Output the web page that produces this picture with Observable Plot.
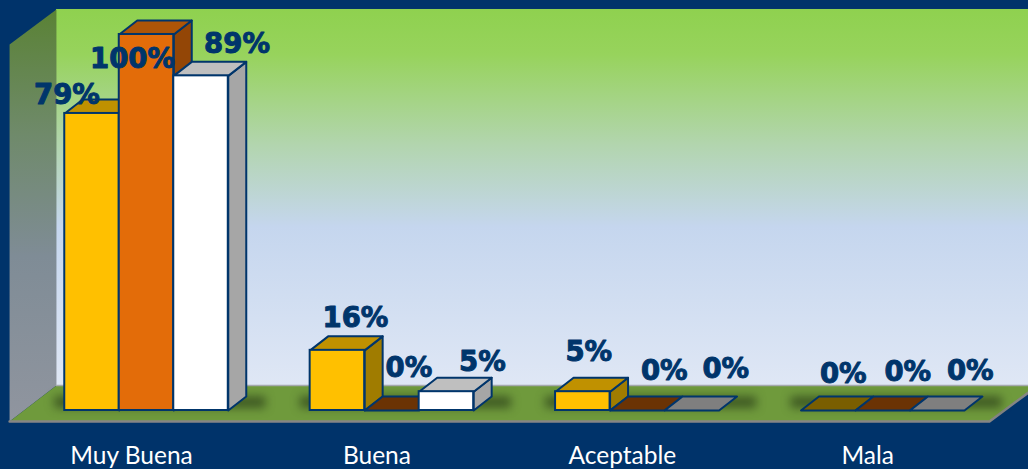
<!DOCTYPE html>
<html><head><meta charset="utf-8">
<script src="https://cdn.jsdelivr.net/npm/d3@7"></script>
<script src="https://cdn.jsdelivr.net/npm/@observablehq/plot@0.6"></script>
<style>html,body{margin:0;padding:0;background:#00336a;overflow:hidden}svg{display:block}</style>
</head><body><div id="chart"></div>
<script>
const categories = ["Muy Buena", "Buena", "Aceptable", "Mala"];
const seriesA = [79, 16, 5, 0];
const seriesB = [100, 0, 0, 0];
const seriesC = [89, 5, 0, 0];

// Rendering layout (not data)
const allSeries = [seriesA, seriesB, seriesC];
const barW = 0.2221, depthX = 0.0733, depthY = 3.72;
const shades = [
  {face:"#ffc000", top:"#c09100", side:"#a07c00", flat:"#7a5e00"},
  {face:"#e36c09", top:"#ae5507", side:"#934606", flat:"#6b3304"},
  {face:"#ffffff", top:"#bfbfbf", side:"#a6a6a6", flat:"#7f7f7f"}
];
const nudges = [
  [[-25,-18],[18,-32],[6,-40],[15,-36]],
  [[-14,25],[17,-42],[27,-39],[25,-38]],
  [[36,-32],[36,-30],[34,-41],[33,-39]]
];
const room = {edgeL:-0.558, wallL:-0.367, right:3.594, frontR:3.435, top:106.65, sideTop:97.34, back:6.65, front:-2.93, rightY:4.79};
const ink = "#00356b";

const bars = allSeries.flatMap((vals, s) => vals.map((v, i) => {
  const x1 = i + (s - 1.5) * barW;
  return {s, i, v, x1, x2: x1 + barW};
}));
const polys = bars.flatMap(b => {
  const c = shades[b.s];
  const xa = b.x1, xb = b.x2, xc = b.x2 + depthX, xd = b.x1 + depthX, yt = b.v + depthY;
  const top = [[xa,b.v],[xb,b.v],[xc,yt],[xd,yt]].map(([x,y]) => ({id:`t${b.s}${b.i}`, fill:b.v === 0 ? c.flat : c.top, x, y}));
  const side = b.v === 0 ? [] : [[xb,0],[xc,depthY],[xc,yt],[xb,b.v]].map(([x,y]) => ({id:`s${b.s}${b.i}`, fill:c.side, x, y}));
  return [...side, ...top];
});
const shadows = categories.map((c, i) => ({x1:i - 1.5*barW - 0.04, x2:i + 1.5*barW + depthX + 0.08}));
const pts = a => a.map(([x,y]) => ({x,y}));

const defs = () => {
  const d = d3.create("svg:defs");
  d.html(`<linearGradient id="wall" x1="0" x2="0" y1="0" y2="1">
    <stop offset="0" stop-color="#8fd14f"/><stop offset="0.12" stop-color="#97d35c"/>
    <stop offset="0.36" stop-color="#b2d5ae"/><stop offset="0.58" stop-color="#c5d6ee"/>
    <stop offset="1" stop-color="#dfe7f5"/></linearGradient>
    <linearGradient id="sidewall" x1="0" x2="0" y1="0" y2="1">
    <stop offset="0" stop-color="#5a8235"/><stop offset="0.3" stop-color="#6f8a6a"/>
    <stop offset="0.6" stop-color="#7f8c96"/><stop offset="1" stop-color="#90959f"/></linearGradient>`);
  return d.node();
};

const labelMarks = bars.map(b => Plot.text([b], {
  x: d => d.x1 + barW / 2, y: "v", text: d => `${d.v}%`,
  dx: nudges[b.s][b.i][0], dy: nudges[b.s][b.i][1],
  fill: ink, stroke: ink, strokeWidth: 1,
  fontFamily: "DejaVu Sans", fontWeight: "bold", fontSize: 27.5
}));

const plot = Plot.plot({
  width: 1028, height: 469, marginBottom: 23, marginTop: 0, marginLeft: 0, marginRight: 0,
  style: {background: "#00336a"},
  x: {domain: [-0.595, 3.594], range: [0, 1028], axis: null},
  y: {domain: [-15.69, 109.04], range: [469, 0], axis: null},
  color: {type: "identity"},
  marks: [
    defs,
    Plot.rect([room], {x1:"wallL", x2:"right", y1:"back", y2:"top", fill:"url(#wall)"}),
    Plot.line(pts([[room.edgeL,room.front],[room.wallL,room.back],[room.wallL,room.top],[room.edgeL,room.sideTop]]),
      {x:"x", y:"y", curve:"linear-closed", fill:"url(#sidewall)"}),
    Plot.line(pts([[room.edgeL,room.front],[room.wallL,room.back],[room.right,room.back],[room.right,room.rightY],[room.frontR,room.front]]),
      {x:"x", y:"y", curve:"linear-closed", fill:"#6f9a3c"}),
    Plot.line(pts([[room.wallL,room.back],[room.right,room.back]]), {x:"x", y:"y", stroke:"#a5a9ad", strokeWidth:1.5}),
    Plot.line(pts([[room.edgeL,room.front],[room.frontR,room.front],[room.right,room.rightY]]), {x:"x", y:"y", stroke:"#858585", strokeWidth:2.5}),
    Plot.rect(shadows, {x1:"x1", x2:"x2", y1:0.6, y2:3.6, fill:"#1d2c10", fillOpacity:0.6, imageFilter:"blur(5px)"}),
    Plot.line(polys, {x:"x", y:"y", z:"id", fill:"fill", stroke:ink, strokeWidth:2, strokeLinejoin:"round", curve:"linear-closed"}),
    Plot.rect(bars, {x1:"x1", x2:"x2", y1:0, y2:"v", fill:d => shades[d.s].face, stroke:ink, strokeWidth:2}),
    ...labelMarks,
    Plot.axisX({ticks:[0,1,2,3], tickFormat:i => categories[i], tickSize:0, tickPadding:0, anchor:"bottom", dx:-15, color:"#ffffff", fontSize:24.5, fontFamily:"Lato", label:null})
  ]
});
document.getElementById("chart").append(plot);
</script></body></html>
